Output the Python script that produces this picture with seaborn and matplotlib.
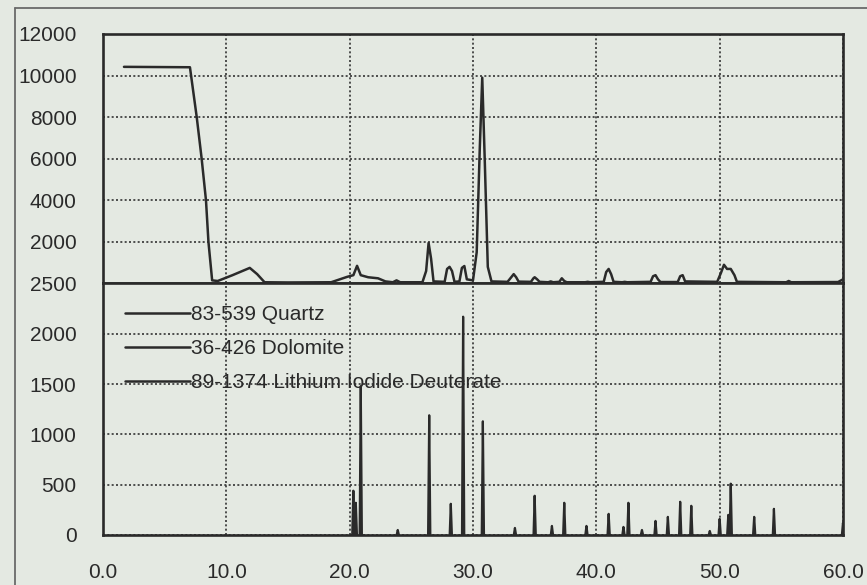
import numpy as np
import pandas as pd
import matplotlib
matplotlib.use("Agg")
import matplotlib.pyplot as plt
import seaborn as sns

# ---------------- data ----------------
# measured pattern (2-theta, counts) read from the picture
obs_2theta = [1.7, 7.05, 7.6, 8.0, 8.35, 8.55, 8.85, 9.3, 10.5, 11.9, 12.5, 13.1, 15.0, 18.5,
              19.2, 19.8, 20.3, 20.6, 20.9, 21.5, 22.3, 22.9, 23.5, 23.8, 24.1, 25.9,
              26.2, 26.4, 26.6, 26.8, 27.7, 27.9, 28.1, 28.3, 28.5, 28.9, 29.1, 29.3, 29.5,
              30.0, 30.3, 30.55, 30.75, 30.95, 31.2, 31.5, 32.8, 33.1, 33.3, 33.5, 33.7,
              34.7, 34.9, 35.0, 35.2, 35.4, 36.1, 36.3, 36.5, 37.0, 37.2, 37.4, 37.6,
              39.1, 39.3, 39.5, 40.6, 40.8, 41.0, 41.2, 41.4, 42.1, 42.3, 42.5, 44.4,
              44.6, 44.8, 45.0, 45.2, 46.6, 46.8, 47.0, 47.2, 49.8, 50.1, 50.35, 50.6,
              50.9, 51.2, 51.4, 55.4, 55.6, 55.8, 59.6, 60.0]
obs_counts = [10420, 10400, 8000, 6000, 4000, 2000, 150, 120, 400, 750, 450, 60, 50, 60,
              200, 320, 400, 850, 400, 300, 250, 100, 60, 150, 60, 60,
              600, 1950, 1200, 100, 80, 700, 800, 600, 80, 100, 750, 840, 200,
              150, 1500, 6500, 9900, 6000, 800, 100, 80, 300, 450, 300, 90,
              80, 250, 300, 200, 80, 60, 100, 60, 80, 250, 120, 60,
              60, 80, 60, 80, 550, 700, 450, 80, 60, 80, 60, 80,
              350, 400, 200, 70, 70, 350, 400, 100, 80, 500, 900, 700,
              700, 400, 80, 60, 120, 60, 70, 200]

# reference stick patterns
phases = ["83-539 Quartz", "36-426 Dolomite", "89-1374 Lithium Iodide Deuterate"]
quartz_pos = [20.9, 26.45, 36.4, 39.2, 42.2, 45.8, 50.0, 54.4, 60.0]
quartz_int = [1480, 1190, 90, 90, 80, 180, 160, 260, 120]
dolomite_pos = [23.9, 30.8, 33.4, 35.0, 37.4, 41.0, 43.7, 44.8, 49.2, 50.9]
dolomite_int = [50, 1130, 70, 390, 320, 210, 50, 140, 40, 510]
lid_pos = [20.3, 20.5, 28.2, 29.2, 42.6, 46.8, 47.7, 50.7, 52.8]
lid_int = [440, 320, 310, 2170, 320, 330, 290, 200, 180]

x_ticks = [0, 10, 20, 30, 40, 50, 60]
x_labels = ["0.0", "10.0", "20.0", "30.0", "40.0", "50.0", "60.0"]
top_yticks = [2000, 4000, 6000, 8000, 10000, 12000]
bot_yticks = [0, 500, 1000, 1500, 2000, 2500]

# ---------------- style ----------------
BG = "#e4e9e2"
INK = "#2a2a2a"
sns.set_theme(style="white")
plt.rcParams["font.family"] = ["Liberation Sans", "DejaVu Sans"]

fig = plt.figure(figsize=(8.67, 5.85), dpi=100, facecolor=BG)
ax_top = fig.add_axes([0.1188, 0.5154, 0.8535, 0.4265], facecolor=BG)
ax_bot = fig.add_axes([0.1188, 0.0855, 0.8535, 0.4299], facecolor=BG)

# top: measured pattern
obs_df = pd.DataFrame({"two_theta": obs_2theta, "counts": obs_counts})
sns.lineplot(data=obs_df, x="two_theta", y="counts", estimator=None, sort=False,
             color=INK, lw=1.8, ax=ax_top)

# bottom: stick patterns
hw = 0.09
rows = []
uid = 0
for name, pos, inten in [(phases[0], quartz_pos, quartz_int),
                         (phases[1], dolomite_pos, dolomite_int),
                         (phases[2], lid_pos, lid_int)]:
    for p, h in zip(pos, inten):
        rows += [(name, uid, p - hw, 0), (name, uid, p, h), (name, uid, p + hw, 0)]
        uid += 1
stick_df = pd.DataFrame(rows, columns=["phase", "stick", "two_theta", "intensity"])
sns.lineplot(data=stick_df, x="two_theta", y="intensity", hue="phase", hue_order=phases,
             units="stick", estimator=None, sort=False,
             palette=[INK, INK, INK], lw=1.6, ax=ax_bot)

grid_kw = dict(color="#333333", linestyle=(0, (1.2, 1.4)), linewidth=1.2)
for ax in (ax_top, ax_bot):
    ax.set_xlim(0, 60)
    ax.set_xticks(x_ticks)
    ax.grid(True, **grid_kw)
    ax.set_xlabel("")
    ax.set_ylabel("")
    for s in ax.spines.values():
        s.set_color(INK)
        s.set_linewidth(1.9)
    ax.tick_params(axis="both", direction="out", length=18, width=1.9, color=INK,
                   labelsize=15, labelcolor=INK, pad=1)

ax_top.set_ylim(0, 12000)
ax_top.set_yticks(top_yticks)
ax_top.set_yticklabels([str(v) for v in top_yticks])
ax_top.tick_params(axis="x", bottom=False, labelbottom=False)

ax_bot.set_ylim(0, 2500)
ax_bot.set_yticks(bot_yticks)
ax_bot.set_yticklabels([str(v) for v in bot_yticks])
ax_bot.set_xticklabels(x_labels)
ax_bot.tick_params(axis="x", pad=2)

handles, labels = ax_bot.get_legend_handles_labels()
leg = ax_bot.legend(handles, labels, loc="upper left", bbox_to_anchor=(0.03, 0.913),
                    frameon=False, fontsize=15, handlelength=3.1, handletextpad=0.05,
                    labelspacing=0.71, borderpad=0, borderaxespad=0)
for t in leg.get_texts():
    t.set_color(INK)
for h in leg.get_lines():
    h.set_linewidth(1.8)

# outer scanned frame
fig.add_artist(plt.Line2D([15 / 867, 15 / 867], [0, 1 - 8 / 585], transform=fig.transFigure,
                          color="#6a6a6a", lw=1.3))
fig.add_artist(plt.Line2D([15 / 867, 1], [1 - 8 / 585, 1 - 8 / 585], transform=fig.transFigure,
                          color="#6a6a6a", lw=1.3))

fig.savefig("out.png", dpi=100, facecolor=BG)
